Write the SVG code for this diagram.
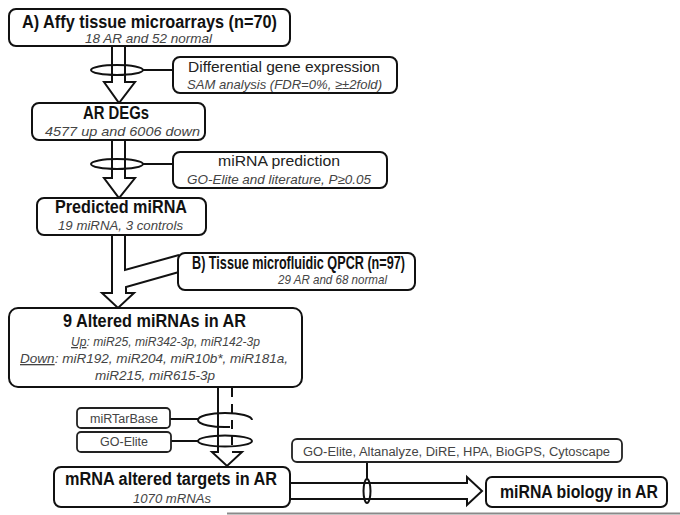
<svg xmlns="http://www.w3.org/2000/svg" width="680" height="515" viewBox="0 0 680 515">
<style>
.box{fill:#fff;stroke:#111;stroke-width:2}
.sbox{fill:#fff;stroke:#222;stroke-width:1.8}
.ln{fill:none;stroke:#111;stroke-width:2;stroke-linejoin:miter}
.arr{fill:#fff;stroke:#111;stroke-width:2;stroke-linejoin:miter}
.t{font-family:"Liberation Sans",Arial,sans-serif;font-weight:bold;font-size:18px;fill:#111;text-anchor:middle}
.m{font-family:"Liberation Sans",Arial,sans-serif;font-size:15px;fill:#222;text-anchor:middle}
.s{font-family:"Liberation Sans",Arial,sans-serif;font-style:italic;font-size:13px;fill:#444;text-anchor:middle}
.r{font-family:"Liberation Sans",Arial,sans-serif;font-size:12px;fill:#444;text-anchor:middle}
</style>
<rect width="680" height="515" fill="#fff"/>
<g id="connectors">
  <!-- arrow A -> AR DEGs -->
  <path class="arr" d="M112,46 V82 H104 L119,103 L135,82 H125 V46"/>
  <ellipse class="ln" cx="117" cy="70" rx="26" ry="5"/>
  <line class="ln" x1="143" y1="70" x2="173" y2="70"/>
  <!-- arrow AR DEGs -> Predicted -->
  <path class="arr" d="M112,140 V178 H104 L119,198 L135,178 H125 V140"/>
  <ellipse class="ln" cx="117" cy="164" rx="26" ry="5"/>
  <line class="ln" x1="143" y1="164" x2="173" y2="164"/>
  <!-- merge arrow Predicted + B -> 9 Altered -->
  <path class="arr" d="M112,235 V293 H102 L118,308 L134,293 H126 V287 L179,272"/>
  <path class="ln" d="M125,235 V270 L179,255"/>
  <!-- arrow 9 Altered -> mRNA -->
  <path class="arr" d="M218,387 V452 H212 L227,466 L242,452 H232"/>
  <line class="ln" x1="232" y1="388" x2="232" y2="452" stroke-dasharray="9 7"/>
  <path class="ln" d="M252,420 A27 7 0 0 0 198,420 A27 7 0 0 0 230,426.9"/>
  <ellipse class="ln" cx="225" cy="441" rx="27" ry="5.5"/>
  <line class="ln" x1="170" y1="419" x2="198" y2="419"/>
  <line class="ln" x1="170" y1="441" x2="198" y2="441"/>
  <!-- arrow mRNA -> miRNA biology -->
  <path class="arr" d="M290,483 H467 V477 L482,491 L467,505 V499 H290"/>
  <ellipse class="ln" cx="367" cy="491" rx="3.5" ry="12"/>
  <line class="ln" x1="367" y1="462" x2="367" y2="479"/>
</g>
<g id="nodeA">
  <rect class="box" x="9" y="9" width="281" height="37" rx="7"/>
  <text class="t" x="149.5" y="28" textLength="255" lengthAdjust="spacingAndGlyphs">A) Affy tissue microarrays (n=70)</text>
  <text class="s" x="148.5" y="43" textLength="127" lengthAdjust="spacingAndGlyphs">18 AR and 52 normal</text>
</g>
<g id="nodeDiff">
  <rect class="box" x="173" y="57" width="224" height="36" rx="7"/>
  <text class="m" x="284" y="72" textLength="192" lengthAdjust="spacingAndGlyphs">Differential gene expression</text>
  <text class="s" x="284.5" y="89" textLength="195" lengthAdjust="spacingAndGlyphs">SAM analysis (FDR=0%, ≥±2fold)</text>
</g>
<g id="nodeDEGs">
  <rect class="box" x="32" y="103" width="173" height="37" rx="7"/>
  <text class="t" x="116" y="119" textLength="66" lengthAdjust="spacingAndGlyphs">AR DEGs</text>
  <text class="s" x="122.5" y="136" textLength="155" lengthAdjust="spacingAndGlyphs">4577 up and 6006 down</text>
</g>
<g id="nodePred">
  <rect class="box" x="173" y="152" width="214" height="36" rx="7"/>
  <text class="m" x="279" y="166" textLength="122" lengthAdjust="spacingAndGlyphs">miRNA prediction</text>
  <text class="s" x="279" y="184" textLength="184" lengthAdjust="spacingAndGlyphs">GO-Elite and literature, P≥0.05</text>
</g>
<g id="nodePredicted">
  <rect class="box" x="37" y="198" width="169" height="37" rx="7"/>
  <text class="t" x="121" y="213" textLength="132" lengthAdjust="spacingAndGlyphs">Predicted miRNA</text>
  <text class="s" x="120.5" y="230" textLength="125" lengthAdjust="spacingAndGlyphs">19 miRNA, 3 controls</text>
</g>
<g id="nodeB">
  <rect class="box" x="178" y="253" width="237" height="37" rx="7"/>
  <text class="t" x="298.5" y="269" textLength="213" lengthAdjust="spacingAndGlyphs">B) Tissue microfluidic QPCR (n=97)</text>
  <text class="s" x="332.5" y="284" textLength="109" lengthAdjust="spacingAndGlyphs">29 AR and 68 normal</text>
</g>
<g id="nodeAltered">
  <rect class="box" x="9" y="308" width="293" height="79" rx="9"/>
  <text class="t" x="154.5" y="327" textLength="183" lengthAdjust="spacingAndGlyphs">9 Altered miRNAs in AR</text>
  <text class="s" x="165.5" y="346" font-size="14" textLength="189" lengthAdjust="spacingAndGlyphs"><tspan text-decoration="underline">Up</tspan>: miR25, miR342-3p, miR142-3p</text>
  <text class="s" x="154" y="363" font-size="14" textLength="268" lengthAdjust="spacingAndGlyphs"><tspan text-decoration="underline">Down</tspan>: miR192, miR204, miR10b*, miR181a,</text>
  <text class="s" x="155" y="380" font-size="14" textLength="120" lengthAdjust="spacingAndGlyphs">miR215, miR615-3p</text>
</g>
<g id="nodeTarBase">
  <rect class="sbox" x="77" y="408" width="93" height="20" rx="4"/>
  <text class="r" x="124" y="423" textLength="68" lengthAdjust="spacingAndGlyphs">miRTarBase</text>
</g>
<g id="nodeGOElite">
  <rect class="sbox" x="77" y="432" width="94" height="20" rx="4"/>
  <text class="r" x="124" y="446" textLength="48" lengthAdjust="spacingAndGlyphs">GO-Elite</text>
</g>
<g id="nodeMRNA">
  <rect class="box" x="54" y="467" width="236" height="40" rx="7"/>
  <text class="t" x="171" y="485" textLength="212" lengthAdjust="spacingAndGlyphs">mRNA altered targets in AR</text>
  <text class="s" x="172" y="503" textLength="78" lengthAdjust="spacingAndGlyphs">1070 mRNAs</text>
</g>
<g id="nodeTools">
  <rect class="sbox" x="292" y="439" width="330" height="23" rx="5"/>
  <text class="r" x="456.5" y="456" textLength="307" lengthAdjust="spacingAndGlyphs">GO-Elite, Altanalyze, DiRE, HPA, BioGPS, Cytoscape</text>
</g>
<g id="nodeBiology">
  <rect class="box" x="486" y="477" width="181" height="30" rx="6"/>
  <text class="t" x="579" y="498" textLength="158" lengthAdjust="spacingAndGlyphs">miRNA biology in AR</text>
</g>
<line x1="227" y1="513.5" x2="680" y2="513.5" stroke="#8a8a8a" stroke-width="2"/>
</svg>
